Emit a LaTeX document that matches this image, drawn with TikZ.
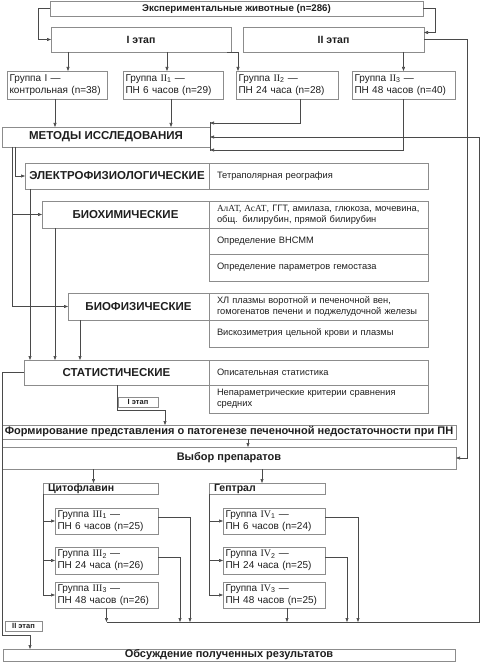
\documentclass[tikz,border=0pt]{standalone}
\usepackage{fontspec}
\setmainfont{Liberation Sans}
\newfontfamily\serf{Liberation Serif}
\usetikzlibrary{arrows.meta}
\definecolor{ln}{HTML}{4A4A4A}
\definecolor{bx}{HTML}{8C8C8C}
\definecolor{tx}{HTML}{1E1E1E}
\newcommand{\rn}[2]{{\serf #1}\textsubscript{#2}}
\begin{document}
\begin{tikzpicture}[x=1pt,y=-1pt,
  every node/.style={outer sep=0pt, text=tx},
  base/.style={draw=bx, line width=0.7pt, anchor=north west, inner sep=0pt},
  hbox/.style={base, font=\bfseries\fontsize{11}{12}\selectfont, align=center},
  topb/.style={base, font=\bfseries\fontsize{9.7}{11}\selectfont, align=center},
  stg/.style={base, font=\bfseries\fontsize{10.5}{12}\selectfont, align=center},
  bigh/.style={base, font=\bfseries\fontsize{11.5}{13}\selectfont, align=center},
  lhead/.style={base, font=\bfseries\fontsize{10.5}{11}\selectfont, align=left, inner xsep=5pt},
  gbox/.style={base, font=\fontsize{10}{12}\selectfont, align=left, inner xsep=2.5pt},
  rbox/.style={base, font=\fontsize{9.3}{11}\selectfont, align=left, inner xsep=8pt, text width=203pt},
  tag/.style={base, font=\bfseries\fontsize{7.5}{8}\selectfont, align=center},
  line/.style={draw=ln, line width=0.6pt},
  arr/.style={line, -{Triangle[length=4pt,width=3pt]}}
]
\useasboundingbox (0,0) rectangle (481,668);

% top
\node[topb, minimum width=373pt, minimum height=15pt] (top) at (50,1) {Экспериментальные животные (n=286)};
\node[stg, minimum width=180pt, minimum height=25pt] (I) at (51,27) {I этап};
\node[stg, minimum width=181pt, minimum height=25pt] (II) at (243,27) {II этап};

\node[gbox, text width=95pt, minimum height=28pt] (G1) at (7,71) {Группа I —\\контрольная (n=38)};
\node[gbox, text width=95pt, minimum height=28pt] (G2) at (123,71) {Группа \rn{II}{1} —\\ПН 6 часов (n=29)};
\node[gbox, text width=97pt, minimum height=28pt] (G3) at (236,71) {Группа \rn{II}{2} —\\ПН 24 часа (n=28)};
\node[gbox, text width=98pt, minimum height=28pt] (G4) at (352,71) {Группа \rn{II}{3} —\\ПН 48 часов (n=40)};

\node[bigh, minimum width=208pt, minimum height=20pt] (M) at (2,127) {МЕТОДЫ ИССЛЕДОВАНИЯ};

\node[bigh, minimum width=184pt, minimum height=26pt] (E) at (25,163) {ЭЛЕКТРОФИЗИОЛОГИЧЕСКИЕ};
\node[rbox, minimum height=26pt] (E1) at (209,163) {Тетраполярная реография};

\node[bigh, minimum width=167pt, minimum height=27pt] (B) at (42,201) {БИОХИМИЧЕСКИЕ};
\node[rbox, minimum height=27pt] (B1) at (209,201) {{\serf АлАТ, АсАТ}, ГГТ, амилаза, глюкоза, мочевина,\\общ. билирубин, прямой билирубин};
\node[rbox, minimum height=26pt] (B2) at (209,228) {Определение ВНСММ};
\node[rbox, minimum height=27pt] (B3) at (209,254) {Определение параметров гемостаза};

\node[bigh, minimum width=141pt, minimum height=27pt] (BP) at (68,293) {БИОФИЗИЧЕСКИЕ};
\node[rbox, minimum height=27pt] (BP1) at (209,293) {ХЛ плазмы воротной и печеночной вен,\\гомогенатов печени и поджелудочной железы};
\node[rbox, minimum height=27pt] (BP2) at (209,320) {Вискозиметрия цельной крови и плазмы};

\node[bigh, minimum width=185pt, minimum height=25pt] (S) at (24,360) {СТАТИСТИЧЕСКИЕ};
\node[rbox, minimum height=25pt] (S1) at (209,360) {Описательная статистика};
\node[rbox, minimum height=28pt] (S2) at (209,385) {Непараметрические критерии сравнения\\средних};

\node[tag, minimum width=40pt, minimum height=10pt] (T1) at (118,397) {I этап};

\node[hbox, minimum width=454pt, minimum height=14pt] (F) at (2,425) {Формирование представления о патогенезе печеночной недостаточности при ПН};
\node[hbox, minimum width=454pt, minimum height=22pt] (V) at (2,447) {Выбор препаратов};

\node[lhead, text width=105pt, minimum height=11pt] (C) at (43,483) {Цитофлавин};
\node[lhead, text width=106pt, minimum height=11pt] (H) at (209,483) {Гептрал};

\node[gbox, text width=98pt, minimum height=26pt] (C1) at (55,508) {Группа \rn{III}{1} —\\ПН 6 часов (n=25)};
\node[gbox, text width=98pt, minimum height=27pt] (C2) at (55,547) {Группа \rn{III}{2} —\\ПН 24 часа (n=26)};
\node[gbox, text width=98pt, minimum height=26pt] (C3) at (55,582) {Группа \rn{III}{3} —\\ПН 48 часов (n=26)};
\node[gbox, text width=97pt, minimum height=26pt] (H1) at (223,508) {Группа \rn{IV}{1} —\\ПН 6 часов (n=24)};
\node[gbox, text width=97pt, minimum height=27pt] (H2) at (223,547) {Группа \rn{IV}{2} —\\ПН 24 часа (n=25)};
\node[gbox, text width=97pt, minimum height=26pt] (H3) at (223,582) {Группа \rn{IV}{3} —\\ПН 48 часов (n=25)};

\node[tag, minimum width=37pt, minimum height=10pt] (T2) at (5,621) {II этап};
\node[hbox, minimum width=452pt, minimum height=12pt] (O) at (3,649) {Обсуждение полученных результатов};

% helper coordinates
\coordinate (rxA) at (467,0);
\coordinate (rxB) at (479,0);
\coordinate (cy) at (0,622);
\coordinate (lb) at (2,635);

% top connectors
\draw[arr] (top.west) -- ++(-12,0) |- (I.west);
\draw[arr] (top.east) -- ++(12,0) |- ([yshift=7pt]II.east);
\draw[arr] (II.east) -- (II.east -| rxA) |- (V.east);
\draw[arr] ([xshift=11pt]G1.north |- I.south) -- ([xshift=11pt]G1.north);
\draw[arr] ([xshift=-6pt]G2.north |- I.south) -- ([xshift=-6pt]G2.north);
\draw[arr] ([xshift=-4pt]I.south east) -| ([xshift=-49pt]G3.north);
\draw[arr] (G4.north |- II.south) -- (G4.north);

% groups to methods
\draw[line] ([yshift=5pt]M.north east) -- ([yshift=-4pt]M.south east);
\draw[arr] ([xshift=-2pt]G1.south) -- ([xshift=-2pt]G1.south |- M.north);
\draw[arr] ([xshift=-2pt]G2.south) -- ([xshift=-2pt]G2.south |- M.north);
\draw[arr] ([xshift=13pt]G3.south) |- ([yshift=4pt]M.north east);
\draw[arr] (G4.south) |- ([yshift=-3pt]M.south east);

% methods to branches
\draw[arr] ([xshift=13pt]M.south west) |- (E.west);
\draw[arr] ([xshift=10pt]M.south west) |- (BP.west);
\draw[arr] ([xshift=10pt]M.south west |- B.west) -- (B.west);
\draw[arr] ([xshift=5pt]E.south west) -- ([xshift=5pt]E.south west |- S.north);
\draw[arr] ([xshift=13pt]B.south west) -- ([xshift=13pt]B.south west |- S.north);
\draw[arr] ([xshift=12pt]BP.south west) -- ([xshift=12pt]BP.south west |- S.north);

% statistics onward
\draw[arr] ([xshift=93pt]S.south west) -- ++(0,25) -| ([xshift=163pt]F.north west);
\draw[arr] (S.west) -| (lb) -| ([xshift=27pt]O.north west);
\draw[arr] ([xshift=19pt]F.south) -- ([xshift=19pt]F.south |- V.north);
\draw[arr] ([xshift=-7pt]C.north |- V.south) -- ([xshift=-7pt]C.north);
\draw[arr] ([xshift=-5pt]H.north |- V.south) -- ([xshift=-5pt]H.north);

% drugs to groups
\draw[arr] (C.south west) |- (C1.west);
\draw[arr] (C.south west) |- (C2.west);
\draw[arr] (C.south west) |- (C3.west);
\draw[arr] (H.south west) |- (H1.west);
\draw[arr] (H.south west) |- (H2.west);
\draw[arr] (H.south west) |- (H3.west);

% groups to collector
\draw[arr] ([yshift=4pt]C1.east) -| ([xshift=32pt]C1.east |- cy);
\draw[arr] ([yshift=3pt]C2.east) -| ([xshift=22pt]C2.east |- cy);
\draw[arr] (C3.south) -- (C3.south |- cy);
\draw[arr] ([yshift=4pt]H1.east) -| ([xshift=33pt]H1.east |- cy);
\draw[arr] ([yshift=3pt]H2.east) -| ([xshift=22pt]H2.east |- cy);
\draw[arr] ([xshift=13pt]H3.south) -- ([xshift=13pt]H3.south |- cy);
\draw[arr] (C3.south |- cy) -| (rxB |- M.east) -- (M.east);
\end{tikzpicture}
\end{document}
